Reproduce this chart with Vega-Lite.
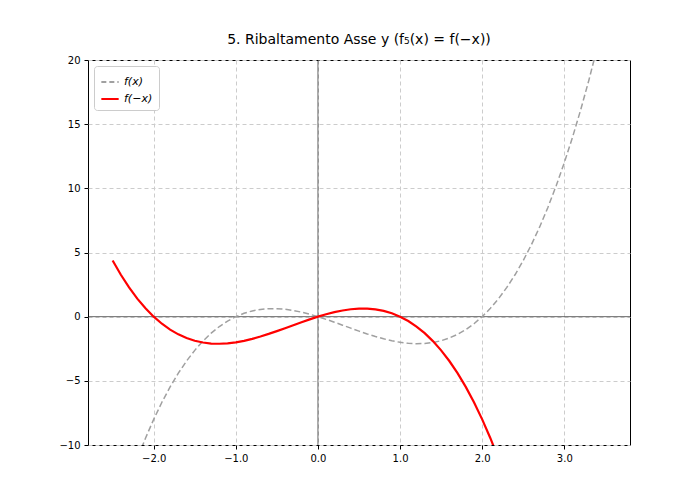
{
"$schema":"https://vega.github.io/schema/vega-lite/v6.json",
"width":542,"height":385,
"autosize":{"type":"none"},
"padding":{"left":88,"top":60,"right":70,"bottom":55},
"background":"white",
"view":{"stroke":"black","strokeWidth":1},
"title":{"text":"5. Ribaltamento Asse y (f₅(x) = f(−x))","font":"DejaVu Sans","fontSize":14,"fontWeight":"normal","color":"black","offset":8},
"config":{"view":{"stroke":"black","strokeWidth":1},"axis":{"labelFont":"DejaVu Sans","labelFontSize":10,"labelColor":"black","tickColor":"black","domain":false,"grid":true,"gridDash":[4,3],"gridColor":"#cccccc","title":null,"labelPadding":4,"tickSize":4}},
"datasets":{
"f":[
{"x":-2.5,"y":-16.875},{"x":-2.4,"y":-14.784},{"x":-2.3,"y":-12.857},{"x":-2.2,"y":-11.088},{"x":-2.1,"y":-9.471},{"x":-2.0,"y":-8},{"x":-1.9,"y":-6.669},{"x":-1.8,"y":-5.472},{"x":-1.7,"y":-4.403},{"x":-1.6,"y":-3.456},{"x":-1.5,"y":-2.625},{"x":-1.4,"y":-1.904},{"x":-1.3,"y":-1.287},{"x":-1.2,"y":-0.768},{"x":-1.1,"y":-0.341},{"x":-1.0,"y":0},{"x":-0.9,"y":0.261},{"x":-0.8,"y":0.448},{"x":-0.7,"y":0.567},{"x":-0.6,"y":0.624},{"x":-0.5,"y":0.625},{"x":-0.4,"y":0.576},{"x":-0.3,"y":0.483},{"x":-0.2,"y":0.352},{"x":-0.1,"y":0.189},{"x":0,"y":0},{"x":0.1,"y":-0.209},{"x":0.2,"y":-0.432},{"x":0.3,"y":-0.663},{"x":0.4,"y":-0.896},{"x":0.5,"y":-1.125},{"x":0.6,"y":-1.344},{"x":0.7,"y":-1.547},{"x":0.8,"y":-1.728},{"x":0.9,"y":-1.881},{"x":1.0,"y":-2},{"x":1.1,"y":-2.079},{"x":1.2,"y":-2.112},{"x":1.3,"y":-2.093},{"x":1.4,"y":-2.016},{"x":1.5,"y":-1.875},{"x":1.6,"y":-1.664},{"x":1.7,"y":-1.377},{"x":1.8,"y":-1.008},{"x":1.9,"y":-0.551},{"x":2.0,"y":0},{"x":2.1,"y":0.651},{"x":2.2,"y":1.408},{"x":2.3,"y":2.277},{"x":2.4,"y":3.264},{"x":2.5,"y":4.375},{"x":2.6,"y":5.616},{"x":2.7,"y":6.993},{"x":2.8,"y":8.512},{"x":2.9,"y":10.179},{"x":3.0,"y":12},{"x":3.1,"y":13.981},{"x":3.2,"y":16.128},{"x":3.3,"y":18.447},{"x":3.4,"y":20.944},{"x":3.5,"y":23.625}],
"g":[
{"x":-2.5,"y":4.375},{"x":-2.4,"y":3.264},{"x":-2.3,"y":2.277},{"x":-2.2,"y":1.408},{"x":-2.1,"y":0.651},{"x":-2.0,"y":0},{"x":-1.9,"y":-0.551},{"x":-1.8,"y":-1.008},{"x":-1.7,"y":-1.377},{"x":-1.6,"y":-1.664},{"x":-1.5,"y":-1.875},{"x":-1.4,"y":-2.016},{"x":-1.3,"y":-2.093},{"x":-1.2,"y":-2.112},{"x":-1.1,"y":-2.079},{"x":-1.0,"y":-2},{"x":-0.9,"y":-1.881},{"x":-0.8,"y":-1.728},{"x":-0.7,"y":-1.547},{"x":-0.6,"y":-1.344},{"x":-0.5,"y":-1.125},{"x":-0.4,"y":-0.896},{"x":-0.3,"y":-0.663},{"x":-0.2,"y":-0.432},{"x":-0.1,"y":-0.209},{"x":0,"y":0},{"x":0.1,"y":0.189},{"x":0.2,"y":0.352},{"x":0.3,"y":0.483},{"x":0.4,"y":0.576},{"x":0.5,"y":0.625},{"x":0.6,"y":0.624},{"x":0.7,"y":0.567},{"x":0.8,"y":0.448},{"x":0.9,"y":0.261},{"x":1.0,"y":0},{"x":1.1,"y":-0.341},{"x":1.2,"y":-0.768},{"x":1.3,"y":-1.287},{"x":1.4,"y":-1.904},{"x":1.5,"y":-2.625},{"x":1.6,"y":-3.456},{"x":1.7,"y":-4.403},{"x":1.8,"y":-5.472},{"x":1.9,"y":-6.669},{"x":2.0,"y":-8},{"x":2.1,"y":-9.471},{"x":2.2,"y":-11.088},{"x":2.3,"y":-12.857}],
"legend":[{"s":"f(x)"},{"s":"f(−x)"}]
},
"layer":[
{"data":{"values":[{"v":0}]},"mark":{"type":"rule","color":"black","strokeWidth":0.6,"zindex":1},"encoding":{"y":{"field":"v","type":"quantitative","scale":{"domain":[-10,20],"nice":false,"zero":false},"axis":{"values":[-10,-5,0,5,10,15,20],"zindex":0}}}},
{"data":{"values":[{"v":0}]},"mark":{"type":"rule","color":"black","strokeWidth":0.6,"zindex":1},"encoding":{"x":{"field":"v","type":"quantitative","scale":{"domain":[-2.8,3.8],"nice":false,"zero":false},"axis":{"values":[-2,-1,0,1,2,3],"zindex":0}}}},
{"data":{"name":"f"},"mark":{"type":"line","color":"#a0a0a0","strokeWidth":1.5,"strokeDash":[6,3],"clip":true,"zindex":2},"encoding":{"x":{"field":"x","type":"quantitative"},"y":{"field":"y","type":"quantitative"}}},
{"data":{"name":"g"},"mark":{"type":"line","color":"red","strokeWidth":2.2,"clip":true,"zindex":2},"encoding":{"x":{"field":"x","type":"quantitative"},"y":{"field":"y","type":"quantitative"}}},
{"data":{"name":"legend"},"mark":{"type":"line","opacity":0},"encoding":{
"color":{"field":"s","type":"nominal","scale":{"domain":["f(x)","f(−x)"],"range":["#a0a0a0","red"]},"legend":{"title":null,"orient":"top-left","offset":6,"symbolType":"stroke","symbolStrokeWidth":2,"labelFont":"DejaVu Sans","labelFontStyle":"italic","labelFontSize":11,"symbolSize":300,"strokeColor":"#cccccc","padding":6,"cornerRadius":3,"fillColor":"white","symbolOpacity":1}},
"strokeDash":{"field":"s","type":"nominal","scale":{"domain":["f(x)","f(−x)"],"range":[[5,3],[1,0]]},"legend":{"title":null,"orient":"top-left","offset":6,"symbolType":"stroke","symbolStrokeWidth":2,"labelFont":"DejaVu Sans","labelFontStyle":"italic","labelFontSize":11,"symbolSize":300,"strokeColor":"#cccccc","padding":6,"cornerRadius":3,"fillColor":"white","symbolOpacity":1}}}}
]
}
